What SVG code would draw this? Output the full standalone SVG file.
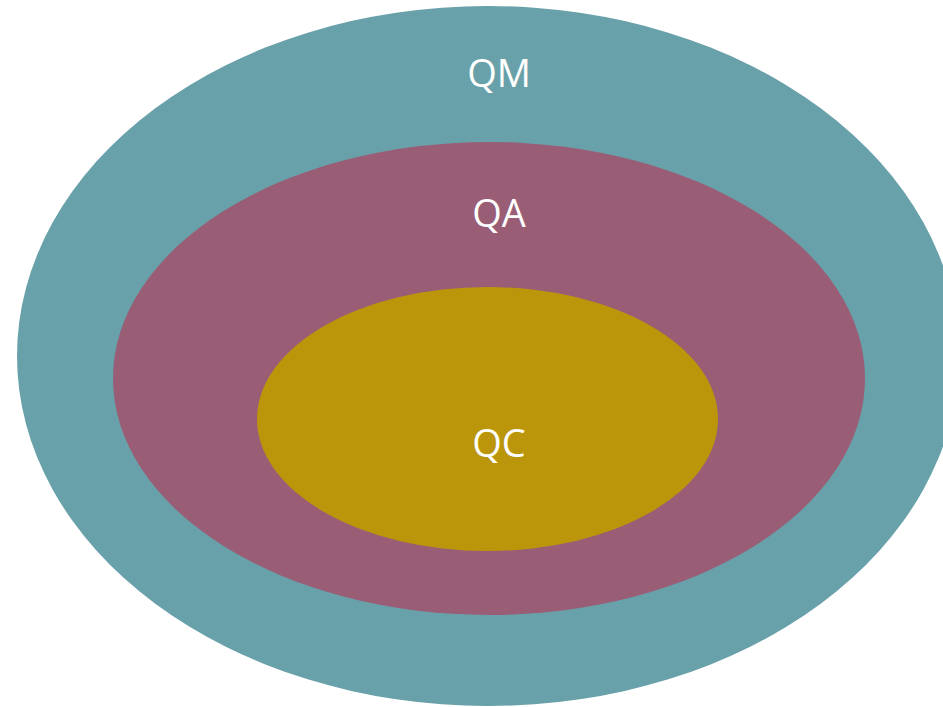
<svg xmlns="http://www.w3.org/2000/svg" width="943" height="707" viewBox="0 0 943 707">
<style>
.lbl{font-family:"Open Sans","Noto Sans",sans-serif;font-size:38px;fill:#ffffff;text-anchor:middle}
</style>
<rect width="943" height="707" fill="#ffffff"/>
<g id="QM"><ellipse cx="488" cy="356" rx="471" ry="350" fill="#68a1aa"/><text class="lbl" x="499" y="87">QM</text></g>
<g id="QA"><ellipse cx="489" cy="378.5" rx="376" ry="236.5" fill="#995e76"/><text class="lbl" x="499" y="227">QA</text></g>
<g id="QC"><ellipse cx="487.5" cy="419" rx="230.5" ry="132" fill="#bb960b"/><text class="lbl" x="499" y="457">QC</text></g>
<g id="connectors"/>
</svg>
